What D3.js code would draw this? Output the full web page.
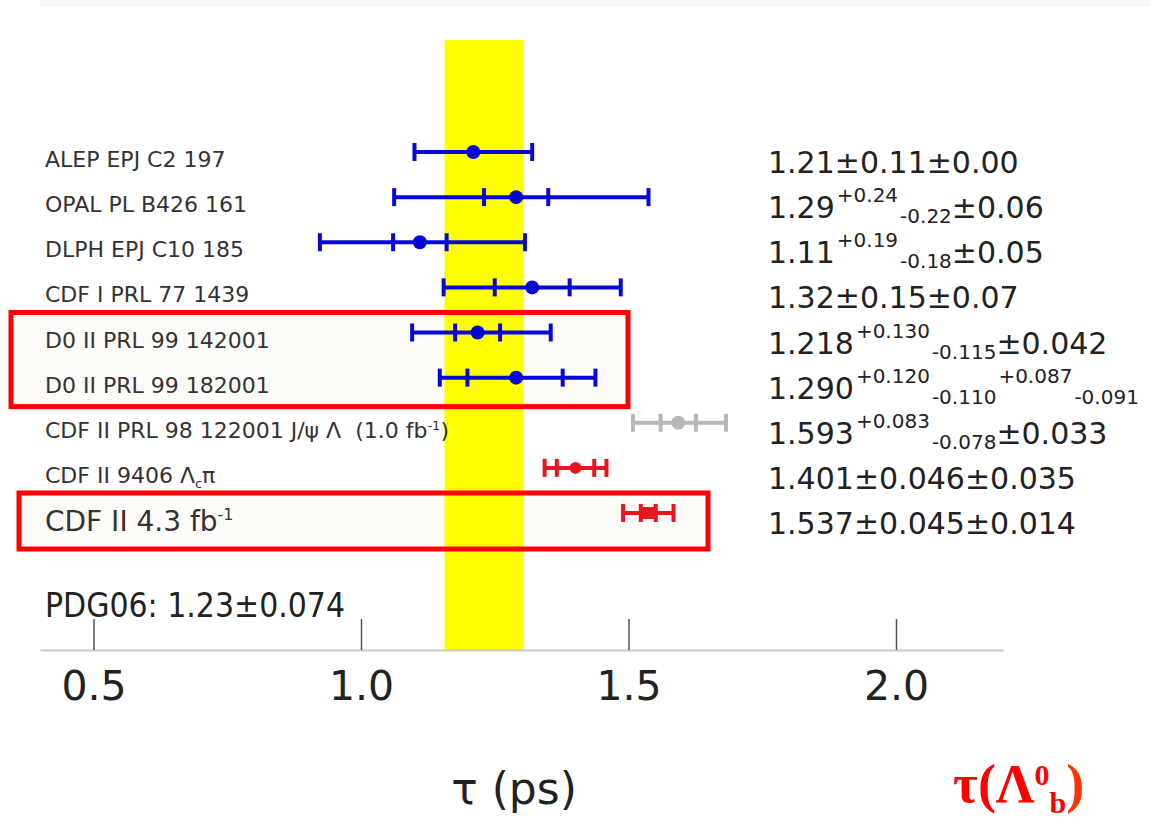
<!DOCTYPE html>
<html>
<head>
<meta charset="utf-8">
<script src="https://cdn.jsdelivr.net/npm/d3@7"></script>
<style>
body { margin: 0; background: #fff; }
svg { display: block; }
text { white-space: pre; }
</style>
</head>
<body>
<div class="container"></div>
<script>
const WIDTH = 1151;
const HEIGHT = 822;

// measurements, top to bottom
const experiments = [
	"ALEP EPJ C2 197",
	"OPAL PL B426 161",
	"DLPH EPJ C10 185",
	"CDF I PRL 77 1439",
	"D0 II PRL 99 142001",
	"D0 II PRL 99 182001",
	"CDF II PRL 98 122001 J/ψ Λ  (1.0 fb^{-1})",
	"CDF II 9406 Λ_{c}π",
	"CDF II 4.3 fb^{-1}"
];
const lifetimes = [1.21, 1.29, 1.11, 1.32, 1.218, 1.290, 1.593, 1.401, 1.537];
const statPlus  = [0.11, 0.24, 0.19, 0.15, 0.130, 0.120, 0.083, 0.046, 0.045];
const statMinus = [0.11, 0.22, 0.18, 0.15, 0.115, 0.110, 0.078, 0.046, 0.045];
const systPlus  = [0.00, 0.06, 0.05, 0.07, 0.042, 0.087, 0.033, 0.035, 0.014];
const systMinus = [0.00, 0.06, 0.05, 0.07, 0.042, 0.091, 0.033, 0.035, 0.014];
const decimals  = [2, 2, 2, 2, 3, 3, 3, 3, 3];
const groups    = ["other", "other", "other", "other", "other", "other", "cdfOld", "cdfNew", "cdfNew"];
const markers   = ["circle", "circle", "circle", "circle", "circle", "circle", "circle", "circle", "square"];
const highlighted = [["D0 II PRL 99 142001", "D0 II PRL 99 182001"], ["CDF II 4.3 fb^{-1}"]];

const pdgValue = 1.23;
const pdgError = 0.074;
const xTicks = [0.5, 1.0, 1.5, 2.0];

var translate = function(x, y){
	return "translate(" + x + "," + y + ")";
};

var _xScale = d3.scaleLinear().domain([0.4, 2.2]).range([40, 1003]);
var _yScale = d3.scalePoint().domain(experiments).range([152, 513]);
var _color = d3.scaleOrdinal().domain(["other", "cdfOld", "cdfNew"]).range(["#0808d6", "#b8b8b8", "#e8141e"]);

// turns "a^{b}_{c}" into tspans
var richText = function(sel, str, opts){
	var parts = str.split(/(\^\{[^}]*\}|_\{[^}]*\})/).filter(function(s){return s.length;});
	var cur = 0;
	parts.forEach(function(p){
		var target = 0, txt = p, small = false;
		if(p.indexOf("^{") === 0){ target = -opts.sup; txt = p.slice(2, -1); small = true; }
		else if(p.indexOf("_{") === 0){ target = opts.sub; txt = p.slice(2, -1); small = true; }
		var t = sel.append("tspan").attr("dy", target - cur).text(txt);
		if(small) t.attr("font-size", opts.small);
		if(small && opts.gap) t.attr("dx", opts.gap);
		cur = target;
	});
};

var errText = function(plus, minus, n){
	if(plus === minus) return "±" + plus.toFixed(n);
	return "^{+" + plus.toFixed(n) + "}_{-" + minus.toFixed(n) + "}";
};

var rows = experiments.map(function(name, i){
	return {
		name: name, value: lifetimes[i],
		sp: statPlus[i], sm: statMinus[i], yp: systPlus[i], ym: systMinus[i],
		n: decimals[i], group: groups[i], marker: markers[i]
	};
});

var createChart = function(){
	var svg = d3.select(".container").append("svg")
		.attr("width", WIDTH)
		.attr("height", HEIGHT)
		.style("font-family", "'DejaVu Sans', sans-serif");

	svg.append("rect").attr("x", 40).attr("y", 0).attr("width", WIDTH - 40).attr("height", 7).attr("fill", "#f8f8f8");

	// highlight boxes (fill first, border on top later)
	var boxes = [
		{x0: 11, x1: 628, top: _yScale(highlighted[0][0]) - 20, bottom: _yScale(highlighted[0][1]) + 29},
		{x0: 19, x1: 708, top: _yScale(highlighted[1][0]) - 20, bottom: _yScale(highlighted[1][0]) + 36}
	];
	svg.selectAll(".box-fill").data(boxes).enter().append("rect")
		.attr("x", function(d){return d.x0;})
		.attr("y", function(d){return d.top;})
		.attr("width", function(d){return d.x1 - d.x0;})
		.attr("height", function(d){return d.bottom - d.top;})
		.attr("fill", "#fcfbf7");

	// PDG band
	svg.append("rect")
		.attr("x", _xScale(pdgValue - pdgError))
		.attr("y", 40)
		.attr("width", _xScale(pdgValue + pdgError) - _xScale(pdgValue - pdgError))
		.attr("height", 650 - 40)
		.attr("fill", "#ffff00");

	// axis
	var xAxis = d3.axisBottom(_xScale).tickValues(xTicks).tickFormat(d3.format(".1f"))
		.tickSizeInner(-31).tickSizeOuter(0).tickPadding(21);
	var ax = svg.append("g").attr("transform", translate(0, 650)).call(xAxis);
	ax.attr("font-family", null).attr("font-size", null);
	ax.select(".domain").attr("stroke", "#c8c8c8").attr("stroke-width", 2);
	ax.selectAll(".tick line").attr("stroke", "#555").attr("stroke-width", 1.5);
	ax.selectAll(".tick text").attr("fill", "#222").attr("font-size", 41);

	svg.append("text")
		.attr("x", 514).attr("y", 804)
		.attr("text-anchor", "middle")
		.attr("font-size", 44)
		.attr("fill", "#222")
		.text("τ (ps)");

	// error bars
	var g = svg.selectAll(".row").data(rows).enter().append("g")
		.attr("class", "row")
		.attr("transform", function(d){return translate(0, _yScale(d.name));})
		.attr("stroke", function(d){return _color(d.group);})
		.attr("fill", function(d){return _color(d.group);});

	var lo = function(d){return _xScale(d.value - Math.sqrt(d.sm * d.sm + d.ym * d.ym));};
	var hi = function(d){return _xScale(d.value + Math.sqrt(d.sp * d.sp + d.yp * d.yp));};

	g.append("line").attr("x1", lo).attr("x2", hi).attr("y1", 0).attr("y2", 0).attr("stroke-width", 4);
	g.each(function(d){
		var caps = [lo(d), hi(d)];
		if(d.yp > 0) caps.push(_xScale(d.value + d.yp));
		if(d.ym > 0) caps.push(_xScale(d.value - d.ym));
		d3.select(this).selectAll(".cap").data(caps).enter().append("line")
			.attr("x1", function(c){return c;}).attr("x2", function(c){return c;})
			.attr("y1", -9).attr("y2", 9).attr("stroke-width", 4);
	});
	g.filter(function(d){return d.marker === "circle";}).append("circle")
		.attr("cx", function(d){return _xScale(d.value);})
		.attr("r", function(d){return d.group === "cdfNew" ? 6 : 7;})
		.attr("stroke", "none");
	g.filter(function(d){return d.marker === "square";}).append("rect")
		.attr("x", function(d){return _xScale(d.value) - 7;})
		.attr("y", -6).attr("width", 14).attr("height", 12)
		.attr("stroke", "none");

	// experiment labels
	svg.selectAll(".label").data(rows).enter().append("text")
		.attr("class", "label")
		.attr("x", 45)
		.attr("y", function(d){return _yScale(d.name) + (d.name === highlighted[1][0] ? 18 : 15);})
		.attr("font-size", function(d){return d.name === highlighted[1][0] ? 28 : 22;})
		.attr("fill", "#333")
		.each(function(d){
			var big = d.name === highlighted[1][0];
			richText(d3.select(this), d.name, {sup: big ? 11 : 8, sub: 5, small: big ? 16 : 13});
		});

	// values
	svg.selectAll(".value").data(rows).enter().append("text")
		.attr("class", "value")
		.attr("x", 768)
		.attr("y", function(d){return _yScale(d.name) + 21;})
		.attr("font-size", 30)
		.attr("fill", "#222")
		.each(function(d){
			var s = d.value.toFixed(d.n) + errText(d.sp, d.sm, d.n) + errText(d.yp, d.ym, d.n);
			richText(d3.select(this), s, {sup: 16, sub: 5, small: 20, gap: 2});
		});

	svg.append("text")
		.attr("x", 45).attr("y", 617)
		.attr("font-size", 33)
		.attr("textLength", 300)
		.attr("lengthAdjust", "spacingAndGlyphs")
		.attr("fill", "#222")
		.text("PDG06: " + pdgValue.toFixed(2) + "±" + pdgError.toFixed(3));

	// box borders
	svg.selectAll(".box-line").data(boxes).enter().append("rect")
		.attr("x", function(d){return d.x0;})
		.attr("y", function(d){return d.top;})
		.attr("width", function(d){return d.x1 - d.x0;})
		.attr("height", function(d){return d.bottom - d.top;})
		.attr("fill", "none")
		.attr("stroke", "#ff0000")
		.attr("stroke-width", 5);

	var title = svg.append("text")
		.attr("x", 953).attr("y", 802)
		.attr("font-family", "'Liberation Serif', serif")
		.attr("font-weight", "bold")
		.attr("font-size", 54)
		.attr("fill", "#ff0000");
	richText(title, "τ(Λ^{0}_{b}", {sup: 17, sub: 11, small: 30});
	title.append("tspan").attr("dy", -11).attr("fill", "#ff3300").text(")");
};

window.onload = createChart;
</script>
</body>
</html>
